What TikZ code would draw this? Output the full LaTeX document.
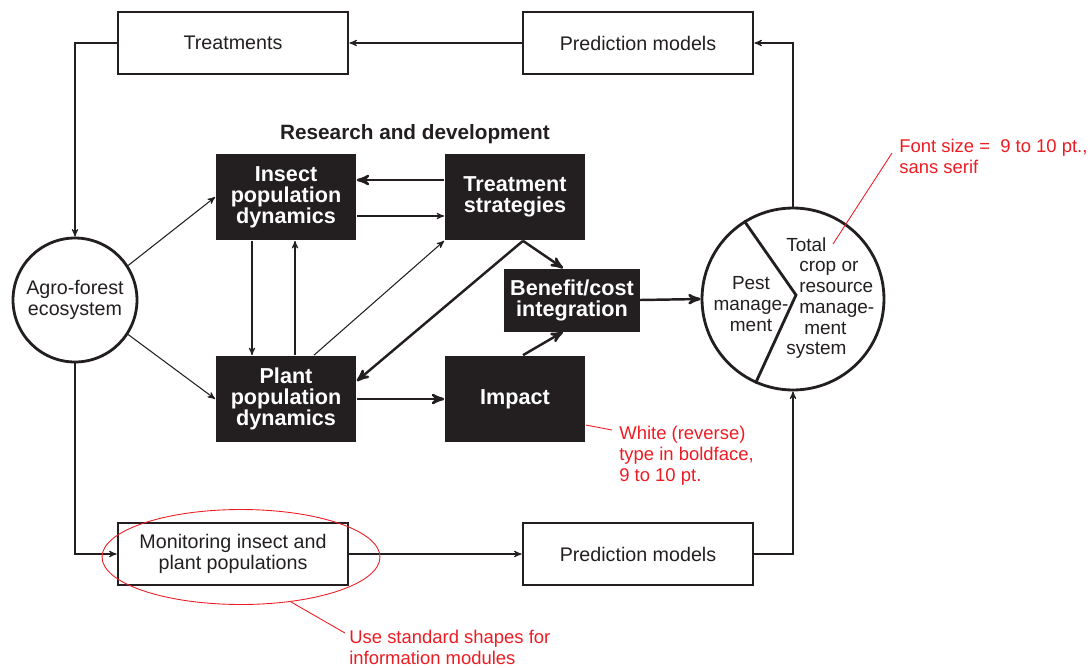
\documentclass[tikz,border=0pt]{standalone}
\usepackage{fontspec}
\setmainfont{Liberation Sans}
\usepackage{tikz}
\usetikzlibrary{arrows,shapes.geometric}
\definecolor{inkblack}{RGB}{35,31,32}
\definecolor{notered}{RGB}{237,28,36}

\begin{document}
\begin{tikzpicture}[x=0.02cm,y=-0.02cm,->,>=stealth',inkblack,
    infobox/.style={draw,line width=1.6pt,minimum width=4.6cm,minimum height=1.24cm,
                    align=center,font=\fontsize{11.2}{11.6}\selectfont},
    rdbox/.style={fill=inkblack,draw=none,text=white,minimum width=2.82cm,
                  minimum height=1.74cm,align=center,
                  font=\fontsize{12.3}{11.9}\selectfont\bfseries},
    world/.style={circle,draw,line width=1.6pt,align=center,inner sep=0pt,
                  font=\fontsize{11.2}{11.6}\selectfont},
    thinflow/.style={line width=0.6pt},
    mainflow/.style={line width=1.4pt},
    note/.style={text=notered,align=left,anchor=north west,inner sep=0pt,
                 font=\fontsize{10.5}{11.9}\selectfont},
    leader/.style={-,draw=notered,line width=0.5pt}]
  \useasboundingbox (0,0) rectangle (1090,667);

  % information modules
  \node[infobox] (treat)   at (233,43)  {Treatments};
  \node[infobox] (predtop) at (638,43)  {Prediction models};
  \node[infobox] (monit)   at (233,554) {Monitoring insect and\\plant populations};
  \node[infobox] (predbot) at (638,554) {Prediction models};

  % research and development
  \node[font=\fontsize{11.8}{12}\selectfont\bfseries] (rdtitle) at (415,134) {Research and development};
  \node[rdbox] (insect) at (286,197) {Insect\\population\\dynamics};
  \node[rdbox] (strat)  at (515,197) {Treatment\\strategies};
  \node[rdbox,minimum width=2.66cm,minimum height=1.26cm] (ben) at (572,300) {Benefit/cost\\integration};
  \node[rdbox] (plant)  at (286,399) {Plant\\population\\dynamics};
  \node[rdbox] (impact) at (515,399) {Impact};

  % systems
  \node[world,minimum size=2.48cm] (agro) at (75,300) {Agro-forest\\ecosystem};
  \node[world,minimum size=3.64cm] (tot)  at (793,299) {};
  \draw[-,line width=1.6pt] (tot.122) -- ([xshift=0.06cm,yshift=0.08cm]tot.center) -- (tot.246);
  \node[align=center,font=\fontsize{10.8}{11.8}\selectfont] (pest)  at (751,304) {Pest\\manage-\\ment};
  \node[align=left,anchor=west,inner sep=0pt,font=\fontsize{10.8}{11.8}\selectfont] (total) at (799,298)
    {\hspace*{-7.4pt}Total\\crop or\\resource\\manage-\\\hspace*{2.8pt}ment\\\hspace*{-7.4pt}system};

  % outer loop
  \draw[thinflow] (treat.west) -| (agro.north);
  \draw[thinflow] (predtop) -- (treat);
  \draw[thinflow] (tot.north) |- (predtop.east);
  \draw[thinflow] (agro.south) |- (monit.west);
  \draw[thinflow] (monit) -- (predbot);
  \draw[thinflow] (predbot.east) -| (tot.south);

  \path[thinflow] (agro.33)  edge (insect.west)
                  (agro.-33) edge (plant.west)
        ([yshift=-0.38cm]insect.east) edge ([yshift=-0.38cm]strat.west)
        ([xshift=-0.68cm]insect.south) edge ([xshift=-0.68cm]plant.north)
        ([xshift=0.18cm]plant.north) edge ([xshift=0.18cm]insect.south)
        ([xshift=0.56cm]plant.north) edge (strat.south west);

  \path[mainflow] ([yshift=0.34cm]strat.west) edge ([yshift=0.34cm]insect.east)
        ([xshift=0.16cm]strat.south) edge ([yshift=0.36cm]plant.east)
                                     edge ([xshift=-0.18cm]ben.north)
        ([xshift=0.16cm]impact.north) edge ([xshift=-0.18cm]ben.south)
        (plant) edge (impact)
        (ben.east) edge (tot.west);

  % notes
  \node[ellipse,draw=notered,line width=0.5pt,minimum width=5.56cm,minimum height=1.9cm] (ring) at (241,557) {};
  \coordinate (shapetip) at (345,633);
  \draw[leader] (ring.-42) -- (shapetip);
  \node[note] (shapenote) at (349,630) {Use standard shapes for\\information modules};

  \coordinate (whitetip) at (612,430);
  \draw[leader] ([yshift=-0.52cm]impact.east) -- (whitetip);
  \node[note] (whitenote) at (619,426) {White (reverse)\\type in boldface,\\9 to 10 pt.};

  \coordinate (fontroot) at (833,244);
  \coordinate (fonttip) at (892,153);
  \draw[leader] (fontroot) -- (fonttip);
  \node[note] (fontnote) at (899,139) {Font size =\ \ 9 to 10 pt.,\\sans serif};
\end{tikzpicture}
\end{document}
